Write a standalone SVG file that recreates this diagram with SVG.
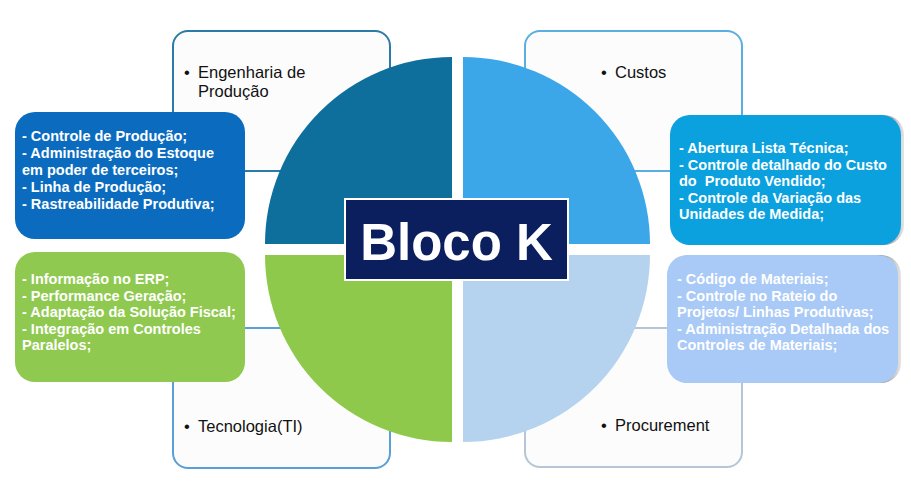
<svg xmlns="http://www.w3.org/2000/svg" width="911" height="487" viewBox="0 0 911 487">
<defs>
<linearGradient id="shade" x1="0" y1="0" x2="1" y2="0">
<stop offset="0.9" stop-color="#8c8c8c"/>
<stop offset="1" stop-color="#e4e4e4"/>
</linearGradient>
</defs>
<style>
.frame{fill:#fcfcfc;stroke-width:2}
.lbl{font-family:"Liberation Sans",Arial,sans-serif;font-size:16.5px;fill:#111}
.bt{font-family:"Liberation Sans",Arial,sans-serif;font-size:14.5px;font-weight:bold;fill:#fff;white-space:pre}
.big{font-family:"Liberation Sans",Arial,sans-serif;font-size:51px;font-weight:bold;fill:#fff}
</style>
<rect width="911" height="487" fill="#fff"/>
<g id="frame-engenharia">
<rect class="frame" x="173" y="31" width="217" height="140" rx="15" stroke="#2b7ba6"/>
<text class="lbl" x="184" y="78">•</text>
<text class="lbl" x="198" y="78">Engenharia de</text>
<text class="lbl" x="198" y="97">Produção</text>
</g>
<g id="frame-custos">
<rect class="frame" x="525" y="31" width="217" height="140" rx="15" stroke="#5aaee2"/>
<text class="lbl" x="601" y="78">•</text>
<text class="lbl" x="615" y="78">Custos</text>
</g>
<g id="frame-tecnologia">
<rect class="frame" x="173" y="328" width="217" height="140" rx="15" stroke="#5a9fd8"/>
<text class="lbl" x="184" y="432">•</text>
<text class="lbl" x="198" y="432">Tecnologia(TI)</text>
</g>
<g id="frame-procurement">
<rect class="frame" x="525" y="328" width="217" height="139" rx="15" stroke="#b6c6d6"/>
<text class="lbl" x="601" y="431">•</text>
<text class="lbl" x="615" y="431">Procurement</text>
</g>
<g id="circle">
<path d="M452,244 L265,244 A187,187 0 0 1 452,57 Z" fill="#0e6e9c"/>
<path d="M463,244 L463,57 A187,187 0 0 1 650,244 Z" fill="#3ba7e8"/>
<path d="M452,255 L452,442 A187,187 0 0 1 265,255 Z" fill="#8ec94c"/>
<path d="M463,255 L650,255 A187,187 0 0 1 463,442 Z" fill="#b5d3ee"/>
</g>
<g id="connectors"></g>
<g id="box-producao">
<rect x="15" y="112" width="230" height="127" rx="20" fill="#0b6cbf"/>
<text class="bt" x="22" y="141">- Controle de Produção;</text>
<text class="bt" x="22" y="158">- Administração do Estoque</text>
<text class="bt" x="22" y="175">em poder de terceiros;</text>
<text class="bt" x="22" y="192">- Linha de Produção;</text>
<text class="bt" x="22" y="209">- Rastreabilidade Produtiva;</text>
</g>
<g id="box-ti">
<rect x="15" y="252" width="230" height="130" rx="20" fill="#8fc94f"/>
<text class="bt" x="22" y="284">- Informação no ERP;</text>
<text class="bt" x="22" y="300.5">- Performance Geração;</text>
<text class="bt" x="22" y="317">- Adaptação da Solução Fiscal;</text>
<text class="bt" x="22" y="333.5">- Integração em Controles</text>
<text class="bt" x="22" y="350">Paralelos;</text>
</g>
<g id="box-custos">
<rect x="673" y="115" width="231" height="130" rx="20" fill="url(#shade)"/>
<rect x="670" y="115" width="231" height="130" rx="20" fill="#0aa1de"/>
<text class="bt" x="679" y="153">- Abertura Lista Técnica;</text>
<text class="bt" x="679" y="169.5">- Controle detalhado do Custo</text>
<text class="bt" x="679" y="186">do  Produto Vendido;</text>
<text class="bt" x="679" y="202.5">- Controle da Variação das</text>
<text class="bt" x="679" y="219">Unidades de Medida;</text>
</g>
<g id="box-procurement">
<rect x="670" y="255" width="231" height="128" rx="20" fill="url(#shade)"/>
<rect x="667" y="255" width="231" height="128" rx="20" fill="#a9c9f6"/>
<text class="bt" x="677" y="284">- Código de Materiais;</text>
<text class="bt" x="677" y="300.5">- Controle no Rateio do</text>
<text class="bt" x="677" y="317">Projetos/ Linhas Produtivas;</text>
<text class="bt" x="677" y="333.5">- Administração Detalhada dos</text>
<text class="bt" x="677" y="350">Controles de Materiais;</text>
</g>
<g id="center">
<rect x="345" y="199" width="223" height="81" fill="#0b1f5e" stroke="#fff" stroke-width="2"/>
<text class="big" x="456.5" y="260" text-anchor="middle">Bloco K</text>
</g>
</svg>
